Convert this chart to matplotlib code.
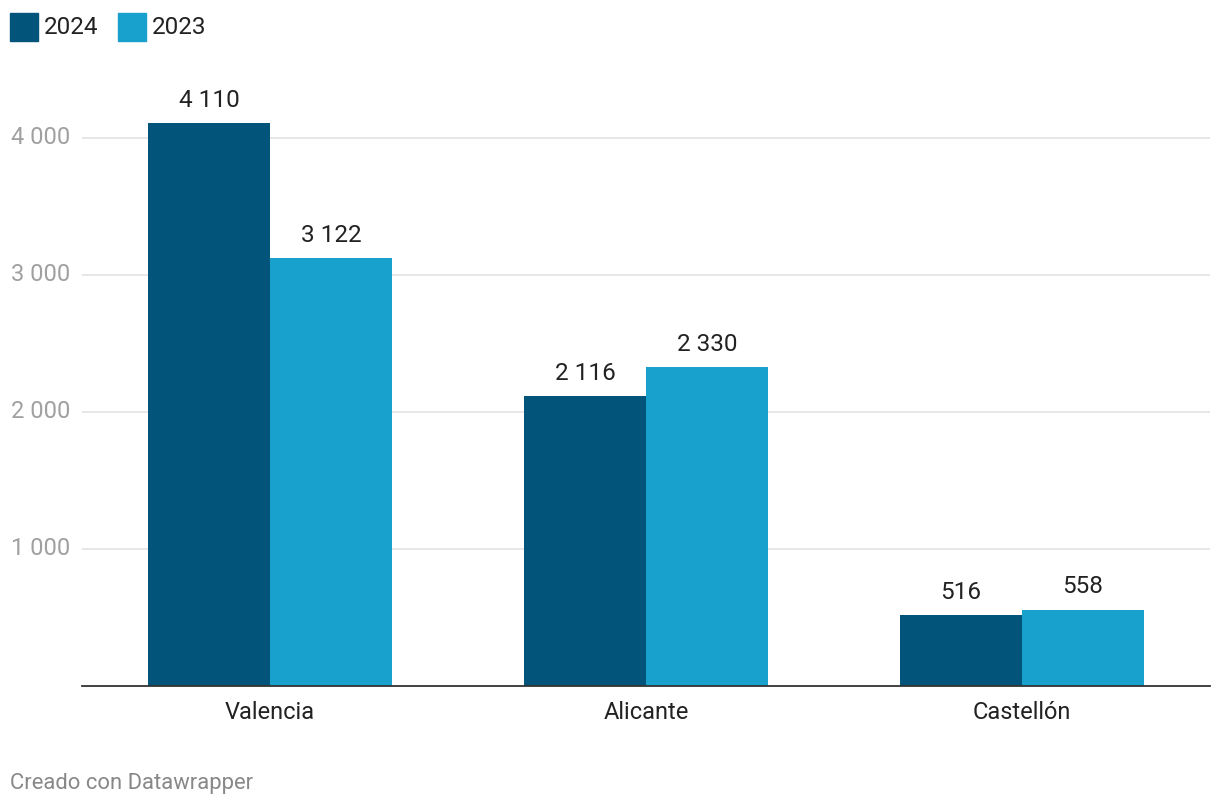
import numpy as np
import matplotlib
matplotlib.use('Agg')
import matplotlib.pyplot as plt

plt.rcParams['font.family'] = ['Roboto', 'DejaVu Sans']

categories = ['Valencia', 'Alicante', 'Castellón']
vals_2024 = [4110, 2116, 516]
vals_2023 = [3122, 2330, 558]
yticks = [1000, 2000, 3000, 4000]

C24 = '#03547b'
C23 = '#18a1cd'

W, H = 1220, 808
fig = plt.figure(figsize=(W/100, H/100), dpi=100)
ax = fig.add_axes([82/W, 1-686/H, (1210-82)/W, (686-83)/H])

x = np.arange(len(categories))
bw = 122/376
ax.bar(x - bw/2, vals_2024, bw, color=C24, zorder=3)
ax.bar(x + bw/2, vals_2023, bw, color=C23, zorder=3)

def fmt(v):
    return f"{v:,}".replace(",", " ")

for xi, v in zip(x - bw/2, vals_2024):
    ax.annotate(fmt(v), (xi, v), xytext=(0, 8), textcoords='offset points',
                ha='center', va='bottom', fontsize=17.5, color='#222222')
for xi, v in zip(x + bw/2, vals_2023):
    ax.annotate(fmt(v), (xi, v), xytext=(0, 8), textcoords='offset points',
                ha='center', va='bottom', fontsize=17.5, color='#222222')

ax.set_xlim(-0.5, 2.5)
ax.set_ylim(0, 4400)
ax.set_yticks(yticks)
ax.set_yticklabels([fmt(t) for t in yticks])
ax.set_xticks(x)
ax.set_xticklabels(categories)
ax.grid(axis='y', color='#e3e3e3', linewidth=1.2, zorder=0)
for s in ['top', 'right', 'left']:
    ax.spines[s].set_visible(False)
ax.spines['bottom'].set_color('#333333')
ax.spines['bottom'].set_linewidth(1.3)
ax.spines['bottom'].set_zorder(4)
ax.tick_params(axis='y', length=0, pad=8.5, labelsize=17, labelcolor='#a0a0a0')
ax.tick_params(axis='x', length=0, pad=10.5, labelsize=17, labelcolor='#222222')
for lbl in ax.get_yticklabels():
    lbl.set_verticalalignment('center')

# legend
for x0, col, txt in [(10, C24, '2024'), (118, C23, '2023')]:
    fig.patches.append(plt.Rectangle((x0/W, 1-41/H), 28/W, 28/H,
                                     transform=fig.transFigure, color=col))
    fig.text((x0+34)/W, 1-27/H, txt, fontsize=17.5, color='#222222', va='center')

fig.text(10/W, 1-784/H, 'Creado con Datawrapper', fontsize=15.8,
         color='#888888', va='center')

fig.savefig('out.png', dpi=100)
